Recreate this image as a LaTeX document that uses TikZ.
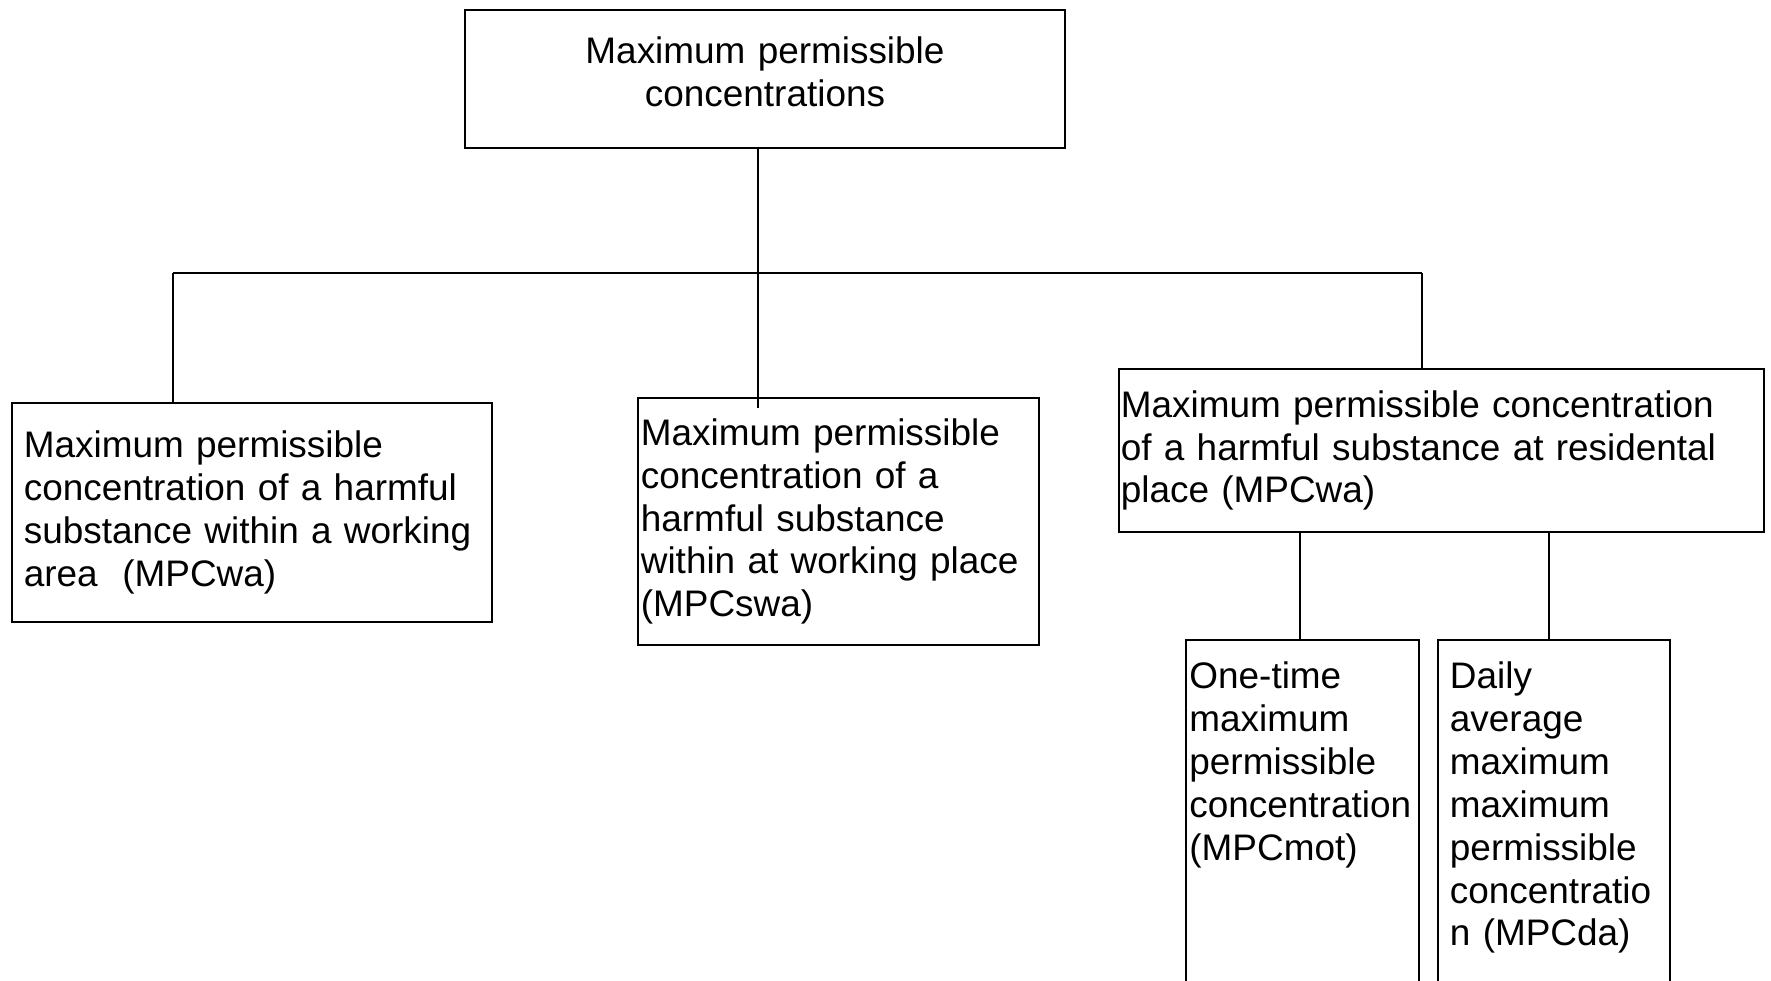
\documentclass[tikz,border=0pt]{standalone}
\usepackage{fontspec}
\setmainfont{Liberation Sans}
\usetikzlibrary{calc}

\tikzset{
  box/.style={draw, line width=0.6pt, align=left, inner ysep=0pt},
  openbox/.style={align=left, anchor=north, inner ysep=6pt},
  link/.style={line width=0.6pt},
}

\begin{document}
\begin{tikzpicture}[x=0.01cm,y=-0.01cm,font=\fontsize{10.5}{12.2}\selectfont]
  \useasboundingbox (0,0) rectangle (1771,981);
  \clip (0,0) rectangle (1771,981);

  % Top box
  \node[box, align=center, text width=5.8cm, inner xsep=0.1cm, minimum height=1.38cm, text depth=16.2pt] (mpc) at (765,79)
    {Maximum permissible\\concentrations};

  % Second level
  \node[box, text width=4.56cm, inner xsep=0.12cm, minimum height=2.19cm] (wa) at (252,512.5)
    {Maximum permissible\\concentration of a harmful\\substance within a working\\area \ (MPCwa)};
  \node[box, text width=3.95cm, inner xsep=0.03cm, minimum height=2.47cm] (swa) at (838.5,521.5)
    {Maximum permissible\\concentration of a\\harmful substance\\within at working place\\(MPCswa)};
  \node[box, text width=6.41cm, inner xsep=0.02cm, minimum height=1.63cm] (res) at (1441.5,450.5)
    {Maximum permissible concentration\\of a harmful substance at residental\\place (MPCwa)};

  % Third level (cut off at the bottom)
  \node[openbox, text width=2.26cm, inner xsep=0.03cm] (mot) at (1302.5,640)
    {One-time\\maximum\\permissible\\concentration\\(MPCmot)};
  \node[openbox, text width=2.08cm, inner xsep=0.11cm] (da) at (1554,640)
    {Daily\\average\\maximum\\maximum\\permissible\\concentratio\\n (MPCda)};
  \foreach \n in {mot,da}
  {
    \draw[link] (\n.north west |- 0,1000) -- (\n.north west) -- (\n.north east) -- (\n.north east |- 0,1000);
  }

  % Bus
  \coordinate (busL) at (173,273);
  \coordinate (busM) at (758,273);
  \coordinate (busR) at (1422,273);
  \draw[link] (mpc.south -| busM) -- (busM);
  \draw[link] (busL) -- (busR);
  \draw[link] (busL) -- (busL |- wa.north);
  \draw[link] (busM) -- ($(busM |- swa.north)+(0,11)$);
  \draw[link] (busR) -- (busR |- res.north);
  \coordinate (dropA) at (1300,532);
  \coordinate (dropB) at (1549,532);
  \draw[link] (dropA) -- (dropA |- mot.north);
  \draw[link] (dropB) -- (dropB |- da.north);
\end{tikzpicture}
\end{document}
